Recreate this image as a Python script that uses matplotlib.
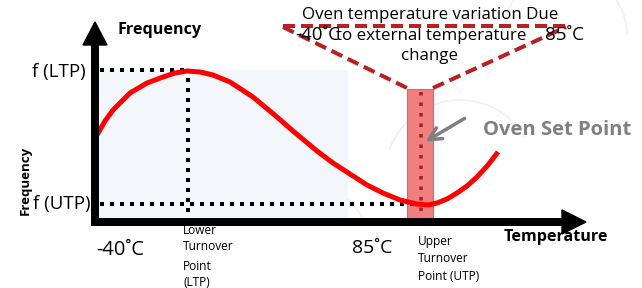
import matplotlib
matplotlib.use("Agg")
import matplotlib.pyplot as plt
from matplotlib.patches import Rectangle, Polygon, Arc

plt.rcParams['font.family'] = ['Open Sans', 'DejaVu Sans']

# frequency-temperature curve (pixel space, y down)
curve_x = [97, 105, 113, 122, 130, 147, 163, 175, 187, 200, 213, 230, 253,
           277, 293, 317, 333, 350, 367, 383, 400, 417, 428, 437, 447, 457,
           467, 477, 488, 498]
curve_y = [135, 121, 110, 101, 93, 83, 77, 73, 71, 72, 75, 82, 97,
           117, 131, 151, 163, 174, 185, 193, 200, 204, 205, 203, 199, 193,
           186, 177, 165, 152]

# reference levels / positions
f_ltp = 70
f_utp = 204
t_ltp = 188
t_utp = 420
axis_x0 = 95
axis_y0 = 222

DPI = 100
W, H = 642, 288
fig = plt.figure(figsize=(W / DPI, H / DPI), dpi=DPI)
ax = fig.add_axes([0, 0, 1, 1])
ax.set_xlim(0, W)
ax.set_ylim(H, 0)
ax.axis('off')

px = 72 / DPI  # points per pixel

# faint watermark arcs in the background
wm = '#f0f0f0'
for cx, cy, r, t1, t2 in [(565, 35, 62, 180, 360), (300, 250, 70, 200, 340),
                          (460, 175, 75, 200, 330)]:
    ax.add_patch(Arc((cx, cy), 2 * r, 2 * r, theta1=t1, theta2=t2,
                     color=wm, lw=1.2, zorder=0))

# light blue backdrop
ax.add_patch(Rectangle((98, f_ltp), 348 - 98, axis_y0 - f_ltp,
                       facecolor='#f3f7fc', edgecolor='none', zorder=1))

# oven band
ax.add_patch(Rectangle((407, 89), 26, axis_y0 - 89 - 4, facecolor='#f08080',
                       edgecolor='#e06060', lw=0.8, zorder=2))

# dotted guides
dot = dict(color='black', lw=4 * px, linestyle=(0, (1, 1.5)),
           dash_capstyle='butt', zorder=3)
ax.plot([100, t_ltp - 2], [f_ltp, f_ltp], **dot)
ax.plot([t_ltp, t_ltp], [78, axis_y0], **dot)
ax.plot([100, t_utp], [f_utp, f_utp], **dot)
ax.plot([t_utp + 1, t_utp + 1], [92, axis_y0], color='#b01c1c', lw=3.5 * px,
        linestyle=(0, (1, 2)), dash_capstyle='butt', zorder=3)

# curve
ax.plot(curve_x, curve_y, color='#ff0000', lw=5 * px,
        solid_joinstyle='round', solid_capstyle='butt', zorder=4)

# axes with arrow heads
ax.plot([axis_x0, axis_x0], [45, axis_y0 + 4], color='black', lw=8 * px,
        solid_capstyle='butt', zorder=5)
ax.add_patch(Polygon([[83, 45], [107, 45], [95, 22]], closed=True,
                     color='black', zorder=5))
ax.plot([axis_x0 - 4, 562], [axis_y0, axis_y0], color='black', lw=8 * px,
        solid_capstyle='butt', zorder=5)
ax.add_patch(Polygon([[562, 210], [562, 234], [586, 222]], closed=True,
                     color='black', zorder=5))

# dashed "variation" funnel
dash = dict(color='#b91f24', lw=4 * px, linestyle=(0, (3, 1.5)),
            dash_capstyle='butt', zorder=6)
ax.plot([283, 566], [26, 26], **dash)
ax.plot([283, 407], [27, 88], **dash)
ax.plot([433, 566], [88, 27], **dash)

# pointer to set point
ax.annotate('', xy=(423, 143), xytext=(467, 117),
            arrowprops=dict(arrowstyle='->,head_length=0.9,head_width=0.45',
                            color='#808080', lw=3.5 * px), zorder=7)

# texts
ax.text(160, 30, 'Frequency', fontsize=11.6, fontweight='bold',
        ha='center', va='center')
ax.text(86, 72, 'f (LTP)', fontsize=13.5, ha='right', va='center')
ax.text(91, 204, 'f (UTP)', fontsize=13.5, ha='right', va='center')
ax.text(25, 180, 'Frequency', fontsize=9.5, fontweight='bold', rotation=90,
        ha='center', va='center')
ax.text(120, 250, '-40˚C', fontsize=14.5, ha='center', va='center')
ax.text(372, 248, '85˚C', fontsize=14, ha='center', va='center')
for label, y in [('Lower', 231), ('Turnover', 247), ('Point', 266), ('(LTP)', 282)]:
    ax.text(183, y, label, fontsize=8.6, ha='left', va='center')
for label, y in [('Upper', 242), ('Turnover', 258), ('Point (UTP)', 276)]:
    ax.text(418, y, label, fontsize=8.6, ha='left', va='center')
ax.text(556, 237, 'Temperature', fontsize=11.6, fontweight='bold',
        ha='center', va='center')
ax.text(557, 130, 'Oven Set Point', fontsize=14.5, fontweight='bold',
        color='#808080', ha='center', va='center', zorder=8)
ax.text(430, 15, 'Oven temperature variation Due', fontsize=12.2,
        ha='center', va='center', zorder=8)
ax.text(431, 36, 'to external temperature', fontsize=12.2,
        ha='center', va='center', zorder=8)
ax.text(429, 56, 'change', fontsize=12.2, ha='center', va='center', zorder=8)
ax.text(318, 35, '-40˚C', fontsize=13.5, ha='center', va='center', zorder=8)
ax.text(565, 35, '85˚C', fontsize=13.5, ha='center', va='center', zorder=8)

fig.savefig('out.png', dpi=DPI, facecolor='white')
